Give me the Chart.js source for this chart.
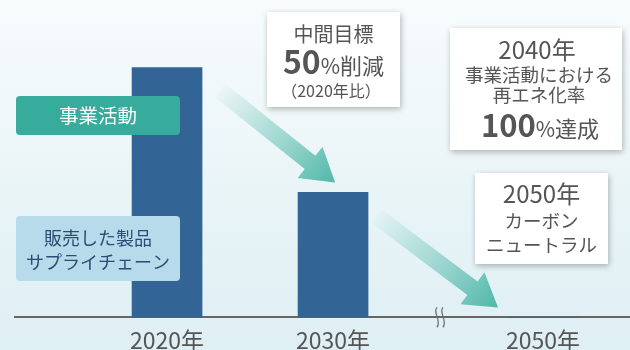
<!DOCTYPE html>
<html lang="ja">
<head>
<meta charset="utf-8">
<script src="https://cdn.jsdelivr.net/npm/chart.js@4.4.1/dist/chart.umd.min.js"></script>
<style>
  html, body { margin: 0; padding: 0; overflow: hidden; background: #eef6f8; }
  #wrap { position: absolute; left: 0; top: 0; width: 630px; height: 363px; }
</style>
</head>
<body>
<div id="wrap"><canvas id="chart"></canvas></div>
<script>
// データ
const yearLabels = ['2020年', '2030年', '2050年'];
const emissions = [100, 50, 0];   // 2020年を100とした排出量
const breakAfter = 1;             // 2030年と2050年の間で軸を省略

const FONT = '"Noto Sans CJK JP", "Noto Sans", sans-serif';
const GRAY = '#555555';

// 省略記号のぶん詰めた軸上の位置
function axisPos(i) {
  return i > breakAfter ? i + 0.265 : i;
}
const positions = yearLabels.map((_, i) => axisPos(i));

function box(ctx, x, y, w, h, fill, radius, shadow) {
  ctx.save();
  if (shadow) {
    ctx.shadowColor = 'rgba(0,0,0,0.28)';
    ctx.shadowBlur = 6;
    ctx.shadowOffsetX = 1;
    ctx.shadowOffsetY = 2;
  }
  ctx.fillStyle = fill;
  ctx.beginPath();
  ctx.roundRect(x, y, w, h, radius);
  ctx.fill();
  ctx.restore();
}

function line(ctx, text, cx, cy, size, color, bold) {
  ctx.font = (bold ? 'bold ' : '') + size + 'px ' + FONT;
  ctx.fillStyle = color;
  ctx.textAlign = 'center';
  ctx.textBaseline = 'middle';
  ctx.fillText(text, cx, cy);
}

// 大きさの違う文字を1行に並べる
function richLine(ctx, parts, cx, baseline, color) {
  let total = 0;
  parts.forEach(p => {
    ctx.font = (p.bold ? 'bold ' : '') + p.size + 'px ' + FONT;
    p.w = ctx.measureText(p.t).width;
    total += p.w;
  });
  let x = cx - total / 2;
  ctx.fillStyle = color;
  ctx.textAlign = 'left';
  ctx.textBaseline = 'alphabetic';
  parts.forEach(p => {
    ctx.font = (p.bold ? 'bold ' : '') + p.size + 'px ' + FONT;
    ctx.fillText(p.t, x, baseline);
    x += p.w;
  });
}

function arrow(ctx, x0, y0, x1, y1) {
  const ang = Math.atan2(y1 - y0, x1 - x0);
  const len = Math.hypot(x1 - x0, y1 - y0);
  const shaft = 17, headW = 40, headL = 32;
  ctx.save();
  const g = ctx.createLinearGradient(x0, y0, x1, y1);
  g.addColorStop(0, 'rgba(78,184,168,0.03)');
  g.addColorStop(0.55, 'rgba(78,184,168,0.5)');
  g.addColorStop(1, 'rgba(72,180,164,0.95)');
  ctx.translate(x0, y0);
  ctx.rotate(ang);
  ctx.beginPath();
  ctx.moveTo(0, -shaft / 2);
  ctx.lineTo(len - headL, -shaft / 2);
  ctx.lineTo(len - headL, -headW / 2);
  ctx.lineTo(len, 0);
  ctx.lineTo(len - headL, headW / 2);
  ctx.lineTo(len - headL, shaft / 2);
  ctx.lineTo(0, shaft / 2);
  ctx.closePath();
  ctx.setTransform(1, 0, 0, 1, 0, 0);
  ctx.fillStyle = g;
  ctx.fill();
  ctx.restore();
}

const backdrop = {
  id: 'backdrop',
  beforeDraw(chart) {
    const { ctx, width, height } = chart;
    const g = ctx.createLinearGradient(0, 0, 0, 350);
    g.addColorStop(0, '#f7fbfc');
    g.addColorStop(1, '#deeff3');
    ctx.save();
    ctx.fillStyle = g;
    ctx.fillRect(0, 0, width, height);
    ctx.restore();
  }
};

const notes = {
  id: 'notes',
  afterDatasetsDraw(chart) {
    const { ctx } = chart;
    const xs = chart.scales.x, ys = chart.scales.y;
    const half = 35;

    // 矢印
    const x20 = xs.getPixelForValue(positions[0]);
    const x30 = xs.getPixelForValue(positions[1]);
    const x50 = xs.getPixelForValue(positions[2]);
    ctx.save();
    arrow(ctx, x20 + half + 18, ys.getPixelForValue(emissions[0]) + 23,
      x30 + 2, ys.getPixelForValue(emissions[1]) - 10);
    arrow(ctx, x30 + half + 9, ys.getPixelForValue(emissions[1]) + 24,
      x50 - 45, ys.getPixelForValue(emissions[2]) - 10);
    ctx.restore();

    // 軸の省略記号
    const by = ys.getPixelForValue(0);
    const bx = (x30 + x50) / 2 + 2;
    ctx.save();
    ctx.strokeStyle = '#707070';
    ctx.lineWidth = 1.3;
    [bx - 3, bx + 3].forEach(sx => {
      ctx.beginPath();
      ctx.moveTo(sx, by - 10);
      ctx.bezierCurveTo(sx - 5, by - 5, sx + 5, by + 3, sx, by + 10);
      ctx.stroke();
    });
    ctx.restore();

    // 凡例代わりのラベル
    box(ctx, 16, 96, 164, 39, '#37ab9c', 4, false);
    line(ctx, '事業活動', 98, 115.5, 19.5, '#ffffff');
    box(ctx, 16, 216, 164, 65, '#b7dbea', 4, false);
    line(ctx, '販売した製品', 98, 238, 18, '#2c4c74');
    line(ctx, 'サプライチェーン', 98, 262, 18, '#2c4c74');

    // 目標の吹き出し
    box(ctx, 267, 12, 133, 95, '#ffffff', 0, true);
    line(ctx, '中間目標', 333.5, 34, 20, GRAY);
    richLine(ctx, [
      { t: '50', size: 32, bold: true },
      { t: '%', size: 21 },
      { t: '削減', size: 22 }
    ], 333.5, 74, GRAY);
    line(ctx, '（2020年比）', 331, 91, 16, GRAY);

    box(ctx, 450, 28, 172, 122, '#ffffff', 0, true);
    line(ctx, '2040年', 537, 50, 24, GRAY);
    line(ctx, '事業活動における', 539, 74.5, 18.5, GRAY);
    line(ctx, '再エネ化率', 539, 95, 18.5, GRAY);
    richLine(ctx, [
      { t: '100', size: 31, bold: true },
      { t: '%', size: 21 },
      { t: '達成', size: 22 }
    ], 540, 137, GRAY);

    box(ctx, 475, 173, 133, 91, '#ffffff', 0, true);
    line(ctx, '2050年', 541.5, 194, 24, GRAY);
    line(ctx, 'カーボン', 541.5, 221, 18.5, GRAY);
    line(ctx, 'ニュートラル', 541.5, 245, 18.5, GRAY);
  }
};

new Chart(document.getElementById('chart'), {
  type: 'bar',
  data: {
    datasets: [{
      data: emissions.map((v, i) => ({ x: positions[i], y: v })),
      backgroundColor: '#326496',
      barThickness: 70
    }]
  },
  options: {
    responsive: true,
    maintainAspectRatio: false,
    animation: false,
    layout: { padding: { left: 15, right: 0, top: 0, bottom: 0 } },
    plugins: {
      legend: { display: false },
      tooltip: { enabled: false }
    },
    scales: {
      x: {
        type: 'linear',
        offset: false,
        min: -0.916,
        max: 2.789,
        grid: { display: false, drawTicks: false },
        border: { display: true, color: '#666666', width: 2 },
        afterBuildTicks: scale => {
          scale.ticks = positions.map(v => ({ value: v }));
        },
        ticks: {
          autoSkip: false,
          maxRotation: 0,
          padding: 9,
          color: GRAY,
          font: { family: FONT, size: 23 },
          callback: value => {
            const i = positions.findIndex(p => Math.abs(p - value) < 1e-6);
            return i >= 0 ? yearLabels[i] : '';
          }
        }
      },
      y: {
        display: false,
        min: 0,
        max: 127
      }
    }
  },
  plugins: [backdrop, notes]
});
</script>
</body>
</html>
